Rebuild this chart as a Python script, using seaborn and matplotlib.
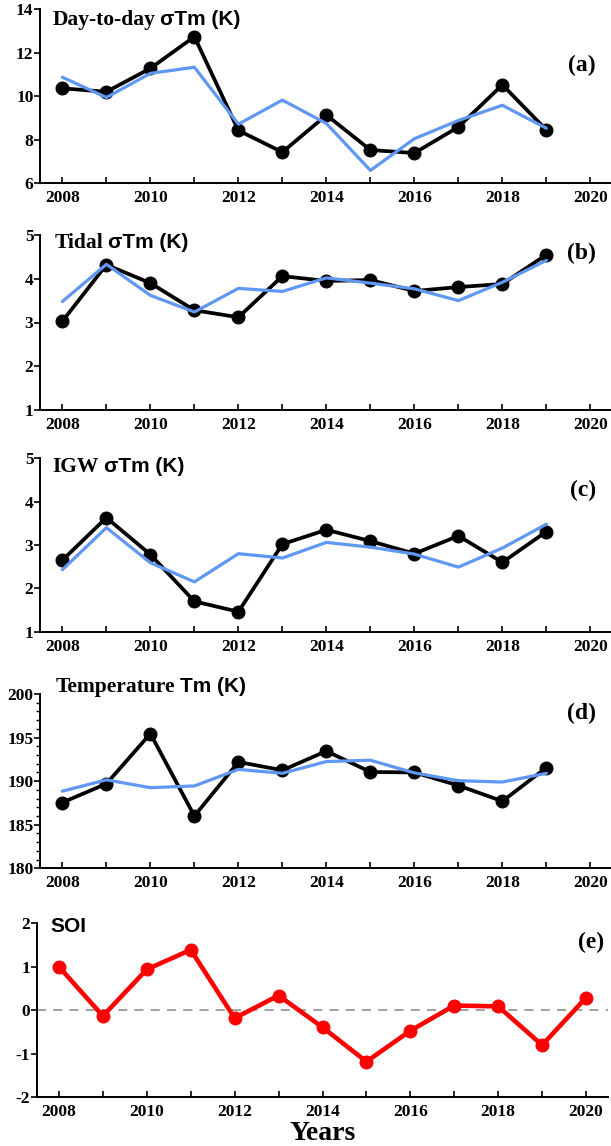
import numpy as np
import pandas as pd
import matplotlib
matplotlib.use("Agg")
import matplotlib.pyplot as plt
import seaborn as sns
from matplotlib.ticker import MultipleLocator

years = list(range(2008, 2020))
years_soi = list(range(2008, 2021))

d2d_obs = [10.36, 10.2, 11.28, 12.74, 8.42, 7.42, 9.13, 7.52, 7.38, 8.58, 10.52, 8.44]
d2d_fit = [10.87, 9.94, 11.05, 11.33, 8.71, 9.82, 8.74, 6.58, 8.04, 8.88, 9.58, 8.52]

tid_obs = [3.03, 4.32, 3.9, 3.28, 3.12, 4.06, 3.95, 3.97, 3.72, 3.81, 3.88, 4.55]
tid_fit = [3.48, 4.33, 3.62, 3.24, 3.78, 3.71, 4.02, 3.9, 3.77, 3.5, 3.92, 4.42]

igw_obs = [2.65, 3.63, 2.78, 1.7, 1.46, 3.02, 3.35, 3.09, 2.8, 3.21, 2.6, 3.31]
igw_fit = [2.43, 3.4, 2.59, 2.15, 2.8, 2.7, 3.06, 2.95, 2.79, 2.49, 2.93, 3.48]

tm_obs = [187.55, 189.7, 195.45, 186.0, 192.2, 191.25, 193.45, 191.05, 191.0, 189.5, 187.7, 191.55]
tm_fit = [188.85, 190.15, 189.25, 189.45, 191.35, 190.9, 192.25, 192.4, 190.95, 190.05, 189.9, 190.9]

soi = [1.0, -0.13, 0.94, 1.39, -0.18, 0.34, -0.39, -1.18, -0.47, 0.11, 0.09, -0.8, 0.29]

titles_serif = ["Day-to-day", "Tidal", "IGW", "Temperature", ""]
titles_sans = ["\u03c3Tm (K)", "\u03c3Tm (K)", "\u03c3Tm (K)", "Tm (K)", "SOI"]
panel_labels = ["(a)", "(b)", "(c)", "(d)", "(e)"]
ylims = [(6, 14), (1, 5), (1, 5), (180, 200), (-2, 2)]
ymajor = [2, 1, 1, 5, 1]
yminor = [None, None, None, 1, None]

sns.set_theme(style="ticks")
plt.rcParams["font.family"] = ["Liberation Serif", "DejaVu Serif"]
plt.rcParams["font.weight"] = "bold"
plt.rcParams["text.color"] = "black"
plt.rcParams["xtick.color"] = "black"
plt.rcParams["ytick.color"] = "black"
plt.rcParams["axes.labelcolor"] = "black"
plt.rcParams["axes.unicode_minus"] = False

W, H = 611, 1146
fig = plt.figure(figsize=(W / 100, H / 100), dpi=100)

# axes rectangles in pixels: (left, top, right, bottom)
rects = [
    (40.4, 9.3, 612.4, 183.0),
    (40.4, 235.0, 612.4, 410.0),
    (40.4, 458.3, 612.4, 631.7),
    (40.4, 694.0, 612.4, 868.3),
    (37.0, 923.3, 608.0, 1097.3),
]
title_x = [52.5, 54.5, 52.5, 56.0, 50.0]
title_base = [25.0, 248.0, 471.7, 691.7, 931.7]
label_right = [596, 596, 596, 596, 604]
label_y = [65.0, 253.3, 490.0, 713.3, 942.7]

blue = "#5f97f2"
obs_list = [d2d_obs, tid_obs, igw_obs, tm_obs]
fit_list = [d2d_fit, tid_fit, igw_fit, tm_fit]

for i, (l, t, r, b) in enumerate(rects):
    ax = fig.add_axes([l / W, 1 - b / H, (r - l) / W, (b - t) / H])
    if i < 4:
        df = pd.DataFrame({"year": years, "obs": obs_list[i], "fit": fit_list[i]})
        sns.lineplot(data=df, x="year", y="obs", ax=ax, color="black", lw=2.7,
                     marker="o", markersize=9.3, markeredgecolor="black", zorder=3)
        sns.lineplot(data=df, x="year", y="fit", ax=ax, color=blue, lw=2.3, zorder=4)
    else:
        df = pd.DataFrame({"year": years_soi, "soi": soi})
        ax.axhline(0, color="#999999", lw=1.3, ls=(0, (5, 4)), zorder=1)
        sns.lineplot(data=df, x="year", y="soi", ax=ax, color="#ff0000", lw=3.3,
                     marker="o", markersize=9.3, markeredgecolor="#ff0000", zorder=3)
    ax.set_xlim(2007.5, 2020.5)
    ax.set_ylim(*ylims[i])
    ax.set_xlabel("")
    ax.set_ylabel("")
    ax.xaxis.set_major_locator(MultipleLocator(2))
    ax.xaxis.set_minor_locator(MultipleLocator(1))
    ax.yaxis.set_major_locator(MultipleLocator(ymajor[i]))
    if yminor[i]:
        ax.yaxis.set_minor_locator(MultipleLocator(yminor[i]))
        ax.tick_params(axis="y", which="minor", direction="out", length=3, width=1.0, color="black")
    else:
        ax.yaxis.set_minor_locator(MultipleLocator(1000))
    ax.tick_params(axis="x", which="both", direction="in", length=4, width=1.2, color="black",
                   labelsize=12.5, pad=5)
    ax.tick_params(axis="y", which="major", direction="out", length=4, width=1.2, color="black",
                   labelsize=12.5, pad=1)
    for sp in ["top", "right"]:
        ax.spines[sp].set_visible(False)
    for sp in ["left", "bottom"]:
        ax.spines[sp].set_linewidth(1.4)
        ax.spines[sp].set_color("black")
    ax.set_facecolor("none")
    fig.canvas.draw()
    for lab in ax.get_xticklabels() + ax.get_yticklabels():
        lab.set_fontweight("bold")
    if i < 4:
        labs = ax.get_yticklabels()
        if labs:
            labs[-1].set_fontsize(9.5)

    # title (serif part + sans part on the same baseline)
    yb = 1 - title_base[i] / H
    if titles_serif[i]:
        t1 = fig.text(title_x[i] / W, yb, titles_serif[i], fontsize=15.5, fontweight="bold",
                      family=["Liberation Serif"], va="baseline", ha="left")
        fig.canvas.draw()
        ext = t1.get_window_extent()
        fig.text((ext.x1 + 5) / W, yb, titles_sans[i], fontsize=15, fontweight="bold",
                 family=["Liberation Sans", "DejaVu Sans"], va="baseline", ha="left")
    else:
        fig.text(title_x[i] / W, yb, titles_sans[i], fontsize=15, fontweight="bold",
                 family=["Liberation Sans"], va="baseline", ha="left")
    fig.text(label_right[i] / W, 1 - label_y[i] / H, panel_labels[i], fontsize=17,
             fontweight="bold", family=["Liberation Serif"], va="center", ha="right")

fig.text(323 / W, 1 - 1133 / H, "Years", fontsize=20, fontweight="bold",
         family=["Liberation Serif"], ha="center", va="center")

fig.savefig("out.png", dpi=100)
